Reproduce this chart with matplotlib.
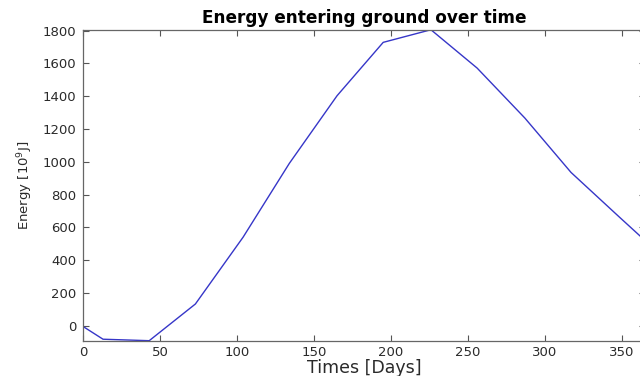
import matplotlib
matplotlib.use("Agg")
import matplotlib.pyplot as plt

days = [0, 13, 43, 73, 104, 134, 165, 195, 226, 256, 287, 317, 348, 365]
energy = [-5, -83, -92, 132, 540, 990, 1403, 1729, 1806, 1572, 1267, 935, 666, 520]
x_ticks = [0, 50, 100, 150, 200, 250, 300, 350]
y_ticks = [0, 200, 400, 600, 800, 1000, 1200, 1400, 1600, 1800]

plt.rcParams["font.family"] = ["DejaVu Sans"]

figure = plt.figure(figsize=(6.4, 3.76), dpi=100)
# the axes run past the right edge, like in the cropped original
axis = figure.add_axes([0.1297, 0.0939, 0.878, 0.827])
axis.plot(days, energy, color="#3636c8", linewidth=1.0)

axis.set_xlim(0, 365)
axis.set_ylim(min(energy), max(energy))
axis.set_xticks(x_ticks)
axis.set_yticks(y_ticks)

axis.tick_params(direction="in", length=4.3, width=0.8, colors="#555555",
                 labelcolor="#2a2a2a", labelsize=9.5, top=True, right=True)
axis.tick_params(axis="x", pad=4)
axis.tick_params(axis="y", pad=5)
for spine in axis.spines.values():
    spine.set_color("#666666")
    spine.set_linewidth(0.9)

axis.set_title("Energy entering ground over time", fontsize=12.2, fontweight="bold", pad=5)
axis.set_xlabel("Times [Days]", fontsize=12.5, color="#2a2a2a", labelpad=0)
axis.set_ylabel("Energy [10$^{9}$J]", fontsize=9.5, color="#2a2a2a", labelpad=5)

figure.savefig("out.png", dpi=100)
plt.close(figure)
